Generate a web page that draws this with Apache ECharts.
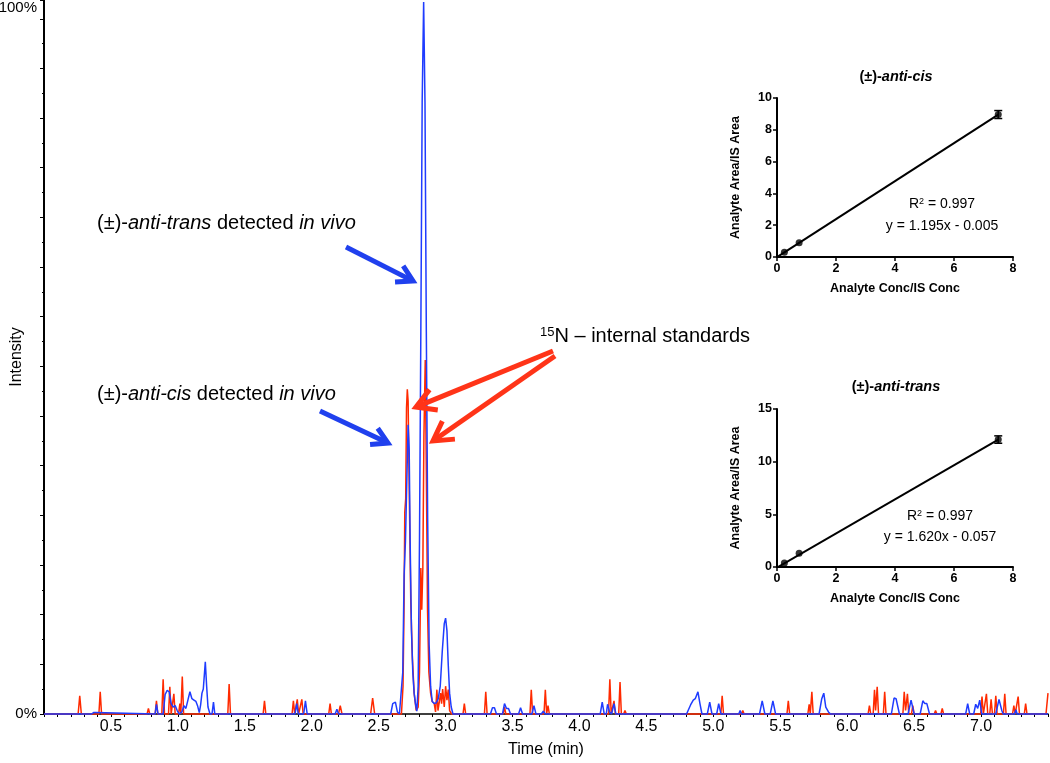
<!DOCTYPE html>
<html><head><meta charset="utf-8">
<script src="https://cdn.jsdelivr.net/npm/echarts@6/dist/echarts.min.js"></script>
<style>html,body{margin:0;padding:0;background:#fff}#c{width:1050px;height:763px}</style>
</head><body><div id="c"></div>
<script>
// ---------- chromatogram data: [time (min), intensity (%)] ----------
const redSignal = [
 [0,0],
 [0.255,0],[0.267,2.6],[0.279,0],
 [0.41,0],[0.42,3.2],[0.43,0],
 [0.77,0],[0.78,0.8],[0.79,0],
 [0.83,0],[0.84,1.9],[0.85,0],
 [0.88,0],[0.89,5.0],[0.9,0],[0.93,0],[0.94,3.9],[0.95,0],[0.96,0],[0.97,2.9],[0.98,0],
 [1.005,0],[1.015,1.5],[1.022,0],[1.033,5.4],[1.043,0],
 [1.373,0],[1.383,4.3],[1.393,0],
 [1.637,0],[1.647,1.9],[1.657,0],
 [1.853,0],[1.863,1.9],[1.873,0],[1.882,0],[1.892,2.1],[1.902,0],[1.916,0],[1.926,2.1],[1.936,0],
 [2.127,0],[2.137,1.5],[2.147,0],
 [2.2,0],[2.213,1.2],[2.226,0],
 [2.44,0],[2.455,2.3],[2.47,0],
 [2.67,0],[2.682,4],[2.69,16],[2.695,29],[2.702,31],[2.708,44],[2.714,46.7],[2.72,45],[2.73,30],[2.74,16],[2.752,8],[2.765,3],[2.78,0.5],
 [2.795,1],[2.805,6],[2.815,21],[2.822,15],[2.83,21],[2.838,40],[2.848,50.9],[2.856,35],[2.865,15],[2.875,6],[2.888,3],[2.9,1.8],[2.915,1.5],
 [2.925,0.3],[2.935,3.5],[2.943,0.5],[2.955,0.5],[2.963,3.0],[2.97,1.5],[2.978,3.6],[2.99,1.0],[3.0,4.0],[3.01,2],[3.02,3.5],[3.03,0.5],[3.045,0],
 [3.13,0],[3.14,1.5],[3.15,0],
 [3.29,0],[3.3,3.2],[3.31,0],
 [3.43,0],[3.44,1.0],[3.45,0],
 [3.63,0],[3.64,3.5],[3.65,0],
 [3.735,0],[3.745,3.5],[3.755,0],[3.765,1.2],[3.775,0],
 [4.217,0],[4.227,5.0],[4.237,0],[4.248,0],[4.258,1.9],[4.268,0],
 [4.293,0],[4.303,4.6],[4.313,0],[4.33,0],[4.34,0.5],[4.35,0],
 [5.056,0],[5.066,2.6],[5.076,0],
 [5.21,0],[5.22,0.5],[5.23,0],
 [5.55,0],[5.56,1.9],[5.57,0],
 [5.706,0],[5.716,1.4],[5.724,0],[5.736,3.2],[5.746,0],
 [6.156,0],[6.166,1.2],[6.176,0],
 [6.194,0],[6.204,3.5],[6.212,0.5],[6.224,3.9],[6.234,0],
 [6.27,0],[6.28,3.2],[6.29,0],
 [6.416,0],[6.426,3.2],[6.436,0.5],[6.45,2.9],[6.46,0],[6.48,0],[6.49,1.2],[6.5,0],
 [6.65,0],[6.66,0.5],[6.67,0],
 [6.7,0],[6.71,0.8],[6.72,0],
 [6.997,0],[7.007,2.5],[7.017,0],[7.03,0],[7.04,2.9],[7.05,0],[7.065,0],[7.075,2.1],[7.085,0],[7.1,0],[7.11,2.6],[7.12,0],
 [7.167,0],[7.177,2.9],[7.187,0],
 [7.235,0],[7.245,1.2],[7.255,0],[7.267,0],[7.277,2.5],[7.287,0],
 [7.323,0],[7.333,1.5],[7.343,0],
 [7.485,0],[7.5,3.0]
];
const blueSignal = [
 [0,0],
 [0.355,0],[0.37,0.2],[0.385,0.2],[0.395,0],
 [0.83,0],[0.84,1.4],[0.852,0],
 [0.89,0],[0.905,2.8],[0.92,3.4],[0.935,3.2],[0.95,1.5],[0.965,1.0],[0.98,1.2],[0.995,0.5],[1.01,0],[1.03,0.3],[1.045,1.2],[1.06,0.8],
 [1.075,2.0],[1.09,3.2],[1.105,2.2],[1.12,2.0],[1.135,1.8],[1.147,1.2],[1.16,0.2],[1.17,1.3],[1.18,3.0],[1.19,3.6],[1.205,7.5],[1.215,4.0],[1.225,1.0],[1.24,0],
 [1.255,0],[1.266,1.7],[1.276,0],
 [1.45,0],[1.46,0.2],[1.475,0],
 [1.875,0],[1.888,1.5],[1.9,0],[1.94,0],[1.953,1.9],[1.966,0],
 [2.175,0],[2.188,0.7],[2.2,0],
 [2.59,0],[2.605,1.5],[2.625,1.7],[2.64,0.3],[2.655,0],[2.668,0],
 [2.68,6],[2.69,20],[2.7,24.8],[2.706,25],[2.712,35],[2.72,41.6],[2.728,38],[2.735,25],[2.745,12],[2.755,6],[2.765,3],[2.775,1.5],[2.785,0.4],
 [2.795,4],[2.805,25],[2.815,55],[2.825,88],[2.836,102.4],[2.846,88],[2.856,55],[2.866,28],[2.877,10],[2.888,4],[2.9,1.8],
 [2.915,1.5],[2.93,1.6],[2.945,2.2],[2.96,4],[2.975,9],[2.99,13],[3.0,13.8],[3.01,12],[3.02,7],[3.03,3],[3.042,1],[3.055,0],
 [3.335,0],[3.35,0.9],[3.365,0.9],[3.38,0],
 [3.425,0],[3.44,1.5],[3.455,0.8],[3.47,0.8],[3.485,0],
 [3.545,0],[3.56,0.9],[3.575,0],
 [3.645,0],[3.66,1.2],[3.675,0],
 [3.715,0],[3.73,0.4],[3.745,0],
 [4.155,0],[4.17,1.7],[4.185,0],[4.2,0],[4.21,1.4],[4.225,0.3],[4.24,0],[4.258,1.5],[4.272,0],
 [4.8,0],[4.83,1.3],[4.85,2.0],[4.865,2.2],[4.885,3.2],[4.9,1.5],[4.915,0],
 [4.955,0],[4.973,1.7],[4.99,0],
 [5.025,0],[5.04,1.5],[5.057,0],
 [5.19,0],[5.2,0.5],[5.21,0],
 [5.345,0],[5.365,1.9],[5.385,0],
 [5.425,0],[5.445,1.9],[5.465,0],
 [5.79,0],[5.81,2.2],[5.825,3.0],[5.84,1.0],[5.86,0.3],[5.875,0],
 [6.33,0],[6.35,2.3],[6.365,2.2],[6.39,0],
 [6.455,0],[6.477,2.0],[6.5,0],
 [6.545,0],[6.565,1.9],[6.58,1.5],[6.595,1.5],[6.615,0],
 [6.885,0],[6.9,1.5],[6.915,0],
 [6.945,0],[6.96,1.4],[6.975,0.8],[6.99,2.0],[7.005,0],
 [7.11,0],[7.134,2.1],[7.155,0.5],[7.165,0],
 [7.25,0],[7.26,0.6],[7.27,0],
 [7.5,0]
];
// ---------- inset calibration data ----------
const cisConc = [0.25, 0.75, 7.5];
const cisRatio = [0.30, 0.89, 8.96];
const cisErr = [0, 0, 0.25];
const cisFitX = [0, 7.5];
const cisFitY = [-0.005, 8.958];
const transConc = [0.25, 0.75, 7.5];
const transRatio = [0.38, 1.30, 12.10];
const transErr = [0, 0, 0.35];
const transFitX = [0, 7.5];
const transFitY = [-0.057, 12.093];

const FF = "'Liberation Sans', Arial, Helvetica, sans-serif";
const BLUE = '#1f3cff', RED = '#ff2a00';

function pairs(xs, ys) { return xs.map((x, i) => [x, ys[i]]); }
function triples(xs, ys, es) { return xs.map((x, i) => [x, ys[i], es[i]]).filter(d => d[2] > 0); }

function insetX(gi) {
  return {type:'value', gridIndex:gi, min:0, max:8, interval:2,
    axisLine:{show:true, onZero:false, lineStyle:{color:'#000', width:2}},
    axisTick:{show:true, length:4, lineStyle:{color:'#000', width:1.5}},
    splitLine:{show:false},
    axisLabel:{color:'#000', fontFamily:FF, fontWeight:'bold', fontSize:12.5, margin:5},
    name:'Analyte Conc/IS Conc', nameLocation:'middle', nameGap:25, nameMoveOverlap:false,
    nameTextStyle:{color:'#000', fontFamily:FF, fontWeight:'bold', fontSize:12.5}};
}
function insetY(gi, max, interval) {
  return {type:'value', gridIndex:gi, min:0, max:max, interval:interval,
    axisLine:{show:true, onZero:false, lineStyle:{color:'#000', width:2}},
    axisTick:{show:true, length:4, lineStyle:{color:'#000', width:1.5}},
    splitLine:{show:false},
    axisLabel:{color:'#000', fontFamily:FF, fontWeight:'bold', fontSize:12.5, margin:5},
    name:'Analyte Area/IS Area', nameLocation:'middle', nameGap:35, nameMoveOverlap:false,
    nameTextStyle:{color:'#000', fontFamily:FF, fontWeight:'bold', fontSize:12.5}};
}
function errSeries(xi, data) {
  return {type:'custom', xAxisIndex:xi, yAxisIndex:xi, data:data, z:5,
    renderItem:(params, api) => {
      const x = api.value(0), y = api.value(1), e = api.value(2);
      const t = api.coord([x, y + e]), b = api.coord([x, y - e]);
      const hw = 4, st = {stroke:'#000', lineWidth:1.5};
      return {type:'group', children:[
        {type:'line', shape:{x1:t[0], y1:t[1], x2:b[0], y2:b[1]}, style:st},
        {type:'line', shape:{x1:t[0]-hw, y1:t[1], x2:t[0]+hw, y2:t[1]}, style:st},
        {type:'line', shape:{x1:b[0]-hw, y1:b[1], x2:b[0]+hw, y2:b[1]}, style:st}
      ]};
    }};
}
function arrow(tail, tip, color, w, L) {
  const dx = tip[0]-tail[0], dy = tip[1]-tail[1], a = Math.atan2(dy, dx), s = Math.PI/6;
  const p1 = [tip[0]-L*Math.cos(a-s), tip[1]-L*Math.sin(a-s)];
  const p2 = [tip[0]-L*Math.cos(a+s), tip[1]-L*Math.sin(a+s)];
  const end = [tip[0]-3*Math.cos(a), tip[1]-3*Math.sin(a)];
  return [
    {type:'line', shape:{x1:tail[0], y1:tail[1], x2:end[0], y2:end[1]}, style:{stroke:color, lineWidth:w}, z:10},
    {type:'polyline', shape:{points:[p1, tip, p2]}, style:{stroke:color, lineWidth:w, fill:null, lineJoin:'miter'}, z:10}
  ];
}
function label(x, y, text, rich, align) {
  return {type:'text', x:x, y:y, z:10, style:{text:text, rich:rich, align:align || 'left', verticalAlign:'middle', fill:'#000', font:'20px ' + FF}};
}
const mainRich = {
  n:{fontSize:20, fontFamily:FF, fill:'#000'},
  i:{fontSize:20, fontFamily:FF, fontStyle:'italic', fill:'#000'},
  s:{fontSize:13, fontFamily:FF, fill:'#000', verticalAlign:'top'}
};
const insetRich = {
  n:{fontSize:14, fontFamily:FF, fill:'#000'},
  s:{fontSize:9, fontFamily:FF, fill:'#000', verticalAlign:'top'}
};
const titleRich = {
  n:{fontSize:14.5, fontFamily:FF, fontWeight:'bold', fill:'#000'},
  i:{fontSize:14.5, fontFamily:FF, fontWeight:'bold', fontStyle:'italic', fill:'#000'}
};

const chart = echarts.init(document.getElementById('c'), null, {renderer:'canvas'});
chart.setOption({
  animation:false,
  backgroundColor:'#fff',
  grid:[
    {left:44, right:2, top:0, bottom:49, containLabel:false, outerBoundsMode:'none'},
    {left:777, width:236, top:98, height:159, containLabel:false, outerBoundsMode:'none'},
    {left:777, width:236, top:409, height:158, containLabel:false, outerBoundsMode:'none'}
  ],
  xAxis:[
    {type:'value', gridIndex:0, min:0, max:7.5, interval:0.5,
     axisLine:{show:true, lineStyle:{color:'#000', width:1.5}},
     axisTick:{show:true, length:3, lineStyle:{color:'#000', width:1}},
     minorTick:{show:true, splitNumber:5, length:3, lineStyle:{color:'#000', width:1}},
     splitLine:{show:false}, minorSplitLine:{show:false},
     axisLabel:{color:'#000', fontFamily:FF, fontSize:16, margin:5,
       formatter:v => (v < 0.01 || v > 7.49) ? '' : v.toFixed(1)},
     name:'Time (min)', nameLocation:'middle', nameGap:28, nameMoveOverlap:false,
     nameTextStyle:{color:'#000', fontFamily:FF, fontSize:16}},
    insetX(1), insetX(2)
  ],
  yAxis:[
    {type:'value', gridIndex:0, min:0, max:102.7, interval:100/14,
     axisLine:{show:true, lineStyle:{color:'#000', width:2}},
     axisTick:{show:true, length:4, lineStyle:{color:'#000', width:1}},
     minorTick:{show:true, splitNumber:2, length:2, lineStyle:{color:'#000', width:1}},
     splitLine:{show:false}, minorSplitLine:{show:false},
     axisLabel:{color:'#000', fontFamily:FF, fontSize:15, margin:7,
       formatter:v => Math.abs(v) < 1e-6 ? '0%' : (Math.abs(v-100) < 0.02 ? '{t|100%}' : ''),
       rich:{t:{fontSize:15, fontFamily:FF, color:'#000', padding:[0,0,22,0]}}},
     name:'Intensity', nameLocation:'middle', nameGap:19, nameMoveOverlap:false,
     nameTextStyle:{color:'#000', fontFamily:FF, fontSize:16}},
    insetY(1, 10, 2), insetY(2, 15, 5)
  ],
  series:[
    {type:'line', xAxisIndex:0, yAxisIndex:0, data:redSignal, showSymbol:false, symbol:'none',
     lineStyle:{color:RED, width:1.5}, z:3, clip:false},
    {type:'line', xAxisIndex:0, yAxisIndex:0, data:blueSignal, showSymbol:false, symbol:'none',
     lineStyle:{color:BLUE, width:1.5}, z:4, clip:false},
    {type:'line', xAxisIndex:1, yAxisIndex:1, data:pairs(cisFitX, cisFitY), showSymbol:false, symbol:'none',
     lineStyle:{color:'#000', width:2}, z:4},
    {type:'scatter', xAxisIndex:1, yAxisIndex:1, data:pairs(cisConc, cisRatio), symbol:'circle', symbolSize:7,
     itemStyle:{color:'#000'}, z:6},
    errSeries(1, triples(cisConc, cisRatio, cisErr)),
    {type:'line', xAxisIndex:2, yAxisIndex:2, data:pairs(transFitX, transFitY), showSymbol:false, symbol:'none',
     lineStyle:{color:'#000', width:2}, z:4},
    {type:'scatter', xAxisIndex:2, yAxisIndex:2, data:pairs(transConc, transRatio), symbol:'circle', symbolSize:7,
     itemStyle:{color:'#000'}, z:6},
    errSeries(2, triples(transConc, transRatio, transErr))
  ],
  graphic:[
    label(97, 223, '{n|(±)-}{i|anti-trans}{n| detected }{i|in vivo}', mainRich),
    label(97, 394, '{n|(±)-}{i|anti-cis}{n| detected }{i|in vivo}', mainRich),
    label(540, 336, '{s|15}{n|N – internal standards}', mainRich),
    ...arrow([346, 247], [413, 281], '#2040ee', 5, 18),
    ...arrow([320, 411], [388, 443], '#2040ee', 5, 18),
    ...arrow([553, 351], [416, 407], '#ff3418', 5, 22),
    ...arrow([555, 356], [433, 441], '#ff3418', 5, 22),
    {type:'text', x:896, y:77, z:10, style:{text:'{n|(±)-}{i|anti-cis}', rich:titleRich, align:'center', verticalAlign:'middle'}},
    {type:'text', x:896, y:387, z:10, style:{text:'{n|(±)-}{i|anti-trans}', rich:titleRich, align:'center', verticalAlign:'middle'}},
    {type:'text', x:942, y:204, z:10, style:{text:'{n|R}{s|2}{n| = 0.997}', rich:insetRich, align:'center', verticalAlign:'middle'}},
    {type:'text', x:942, y:226, z:10, style:{text:'{n|y = 1.195x - 0.005}', rich:insetRich, align:'center', verticalAlign:'middle'}},
    {type:'text', x:940, y:516, z:10, style:{text:'{n|R}{s|2}{n| = 0.997}', rich:insetRich, align:'center', verticalAlign:'middle'}},
    {type:'text', x:940, y:537, z:10, style:{text:'{n|y = 1.620x - 0.057}', rich:insetRich, align:'center', verticalAlign:'middle'}}
  ]
});
</script></body></html>
